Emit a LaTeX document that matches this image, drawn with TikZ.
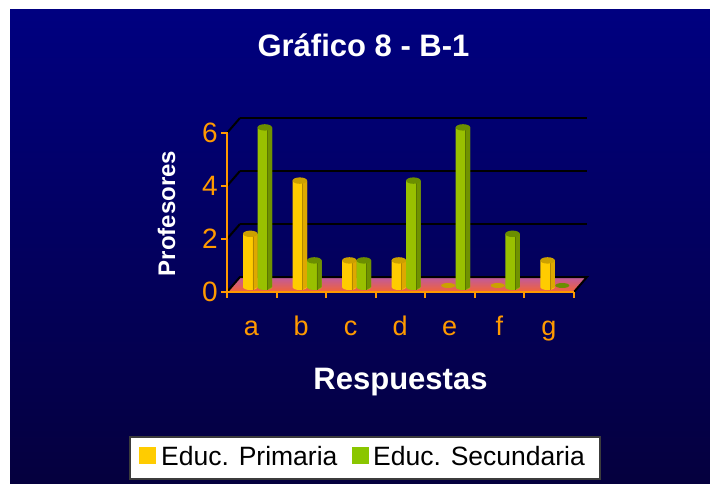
\documentclass[tikz,border=0pt]{standalone}
\usepackage{fontspec}
\setmainfont{Liberation Sans}
\definecolor{bgtop}{RGB}{0,0,128}
\definecolor{bgbot}{RGB}{5,0,62}
\definecolor{axorange}{RGB}{255,153,0}
\definecolor{ylw}{RGB}{255,204,0}
\definecolor{ylwdark}{RGB}{222,168,0}
\definecolor{ylwtop}{RGB}{204,160,0}
\definecolor{grn}{RGB}{153,192,0}
\definecolor{grndark}{RGB}{112,146,0}
\definecolor{grntop}{RGB}{107,142,0}
\definecolor{floortop}{RGB}{190,90,160}
\definecolor{floorbot}{RGB}{245,100,50}
\definecolor{legborder}{RGB}{60,60,60}
\tikzset{
  gridline/.style={black, line width=2pt},
  axisline/.style={axorange, line width=2pt},
  ylab/.style={anchor=east, text=axorange, font=\fontsize{28}{28}\selectfont, inner sep=0pt},
  xlab/.style={anchor=base, text=axorange, font=\fontsize{27}{27}\selectfont, inner sep=0pt},
  titletext/.style={text=white, font=\fontsize{31}{31}\selectfont\bfseries, inner sep=0pt},
  legtext/.style={anchor=base west, text=black, font=\fontsize{26.5}{26.5}\selectfont, inner sep=0pt},
}
\newcommand{\cylbar}[6]{% x1, x2, value, body, strip, top
  \pgfmathsetmacro{\cxa}{#1}\pgfmathsetmacro{\cxb}{#2}
  \pgfmathsetmacro{\crx}{(\cxb-\cxa)/2}
  \pgfmathsetmacro{\cyt}{287-26.6*#3}
  \pgfmathsetmacro{\cxs}{\cxb-0.32*(\cxb-\cxa)}
  \fill[#4] (\cxa,\cyt) -- (\cxa,287) arc[start angle=180,end angle=360,x radius=\crx pt,y radius=3pt] -- (\cxb,\cyt) -- cycle;
  \fill[#5] (\cxs,\cyt) -- (\cxs,289.7) -- (\cxb,287) -- (\cxb,\cyt) -- cycle;
  \draw[#5!80!black, line width=0.5pt] (\cxs,\cyt) -- (\cxs,289.7);
  \fill[#6] (\cxa+\crx,\cyt) ellipse[x radius=\crx pt, y radius=3.2pt];
}
\newcommand{\flatbar}[3]{% x1, x2, color
  \pgfmathsetmacro{\cxa}{#1}\pgfmathsetmacro{\cxb}{#2}
  \pgfmathsetmacro{\crx}{(\cxb-\cxa)/2}
  \fill[#3] (\cxa+\crx,285.5) ellipse[x radius=\crx pt, y radius=2.5pt];
}
\begin{document}
\begin{tikzpicture}[x=1pt,y=-1pt]
\useasboundingbox (0,0) rectangle (710,484);
\shade[top color=bgtop, bottom color=bgbot] (10,10) rectangle (710,484);
\node[titletext, anchor=base] (title) at (363.5,57) {Gráfico 8 - B-1};
% back wall gridlines
\foreach \yy in {118,171,224,277} \draw[gridline] (240,\yy) -- (587,\yy);
\foreach \yy in {133,186,239} \draw[gridline] (227,\yy) -- (240,\yy-15);
% floor
\shade[top color=floortop, bottom color=floorbot] (227,292) -- (240,277) -- (587,277) -- (574,292) -- cycle;
\draw[gridline] (227,292) -- (240,277) -- (587,277) -- (574,292);
% bars
\foreach \i/\p/\s in {0/2/6,1/4/1,2/1/1,3/1/4,4/0/6,5/0/2,6/1/0}{
  \pgfmathsetmacro{\xo}{227+49.55*\i}
  \ifdim\p pt>0pt \cylbar{\xo+16}{\xo+30.5}{\p}{ylw}{ylwdark}{ylwtop}\else\flatbar{\xo+16}{\xo+30}{ylwtop}\fi
  \ifdim\s pt>0pt \cylbar{\xo+30.5}{\xo+45}{\s}{grn}{grndark}{grntop}\else\flatbar{\xo+31}{\xo+45}{grntop}\fi
}
% axes
\draw[axisline] (227,132) -- (227,292) -- (574,292);
\foreach \yy/\lab in {133/6,186/4,239/2,292/0}{
  \draw[axisline] (221,\yy) -- (227,\yy);
  \node[ylab] (y\lab) at (218,\yy) {\lab};
}
\foreach \i in {0,...,7} \draw[axisline] (227+49.55*\i,292) -- (227+49.55*\i,298);
\foreach \i/\lab in {0/a,1/b,2/c,3/d,4/e,5/f,6/g}
  \node[xlab] (x\lab) at (251.5+49.55*\i,335) {\lab};
\node[titletext, font=\fontsize{24}{24}\selectfont\bfseries, rotate=90, anchor=base] (ytitle) at (175,213.5) {Profesores};
\node[titletext, anchor=base] (xtitle) at (400.5,389) {Respuestas};
% legend
\node[draw=legborder, line width=1.5pt, fill=white, minimum width=470pt, minimum height=42pt, inner sep=0pt] (legend) at (365,458) {};
\fill[ylw] (139,447) rectangle (156,464);
\node[legtext] (l1) at (161,465) {Educ. Primaria};
\fill[grn!90!green] (352,447) rectangle (369,464);
\node[legtext] (l2) at (373,465) {Educ. Secundaria};
\end{tikzpicture}
\end{document}
